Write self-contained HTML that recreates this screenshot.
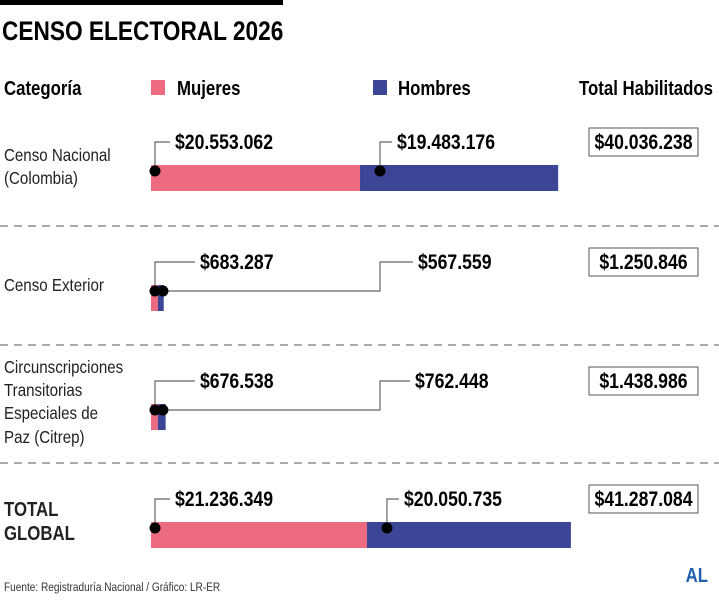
<!DOCTYPE html>
<html><head><meta charset="utf-8"><style>
body{margin:0;background:#fff;width:719px;height:599px;overflow:hidden}
svg text{font-family:"Liberation Sans Narrow","Liberation Sans",sans-serif}
</style></head><body>
<svg id="c" width="719" height="599" xmlns="http://www.w3.org/2000/svg">
<rect x="0" y="0" width="283" height="5" fill="#000"/>
<text x="2" y="40" font-size="27" font-weight="bold">CENSO ELECTORAL 2026</text>
<text x="4" y="95" font-size="20" font-weight="bold">Categoría</text>
<rect x="151" y="80" width="14" height="15" fill="#ec6b80"/>
<text x="177" y="95" font-size="20" font-weight="bold">Mujeres</text>
<rect x="373" y="80" width="14" height="15" fill="#3c4596"/>
<text x="398" y="95" font-size="20" font-weight="bold">Hombres</text>
<text x="713" y="95" font-size="20" font-weight="bold" text-anchor="end">Total Habilitados</text>
<g id="rows"></g>
<text x="4" y="591" font-size="12" fill="#333">Fuente: Registraduría Nacional / Gráfico: LR-ER</text>
<text x="708" y="582" font-size="20" font-weight="bold" fill="#1f5fb0" text-anchor="end">AL</text>
</svg>
<script>
const categories=[["Censo Nacional","(Colombia)"],["Censo Exterior"],["Circunscripciones","Transitorias","Especiales de","Paz (Citrep)"],["TOTAL","GLOBAL"]];
const mujeres=[20553062,683287,676538,21236349];
const hombres=[19483176,567559,762448,20050735];
const totals=[40036238,1250846,1438986,41287084];
const NS="http://www.w3.org/2000/svg";
const g=document.getElementById("rows");
const x0=151,k=10.17/1e6;
const xs=v=>x0+v*k;
const fmt=v=>"$"+String(v).replace(/\B(?=(\d{3})+(?!\d))/g,".");
function mk(t,a){const e=document.createElementNS(NS,t);for(const n in a)e.setAttribute(n,a[n]);g.appendChild(e);return e;}
const barTop=[165,285,404,522],labY=[142,262,381,499],catY=[[155,178],[285],[367,390,413,437],[510,534]];
[226,345,463].forEach(y=>{
  const l=mk("line",{x1:0,x2:719,y1:y,y2:y,stroke:"#777","stroke-width":1.2,"stroke-dasharray":"8,6"});
  
  
});
categories.forEach((c,i)=>{
  const bold=i==3;
  c.forEach((s,j)=>{
    const t=mk("text",{x:4,y:catY[i][j]+6,"font-size":bold?20:18,"font-weight":bold?"bold":"normal",fill:"#222"});
    t.textContent=s;
    
    
  });
  const y=barTop[i],xm=xs(mujeres[i]),xh=xs(mujeres[i]+hombres[i]);
  const b1=mk("rect",{x:x0,y:y,width:xm-x0,height:26,fill:"#ec6b80"});
  
  
  const b2=mk("rect",{x:xm,y:y,width:xh-xm,height:26,fill:"#3c4596"});
  
  
  const small=(xh-x0)<60;
  const dy=y+6,ly=labY[i];
  const d1x=x0+4,d2x=small?xm+5:xm+20;
  const lx1=small?195:170;
  const p1=mk("polyline",{points:`${d1x},${dy} ${d1x},${ly} ${lx1},${ly}`,fill:"none",stroke:"#666","stroke-width":1.2});
  
  
  const t1=mk("text",{x:lx1+5,y:ly+7,"font-size":21,"font-weight":"bold"});
  t1.textContent=fmt(mujeres[i]);
  
  
  const lx2=small?380:d2x;
  const end2=small?(i==1?413:410):d2x+12;
  const p2=mk("polyline",{points:small?`${d2x},${dy} ${lx2},${dy} ${lx2},${ly} ${end2},${ly}`:`${d2x},${dy} ${d2x},${ly} ${end2},${ly}`,fill:"none",stroke:"#666","stroke-width":1.2});
  
  
  const t2=mk("text",{x:end2+5,y:ly+7,"font-size":21,"font-weight":"bold"});
  t2.textContent=fmt(hombres[i]);
  
  
  [d1x,d2x].forEach(cx=>{
    const d=mk("circle",{cx:cx,cy:dy,r:5.5,fill:"#000"});
    
    
  });
  const bx=mk("rect",{x:589,y:ly-14,width:109,height:28,fill:"#fff",stroke:"#555","stroke-width":1});
  
  
  const tt=mk("text",{x:643.5,y:ly+7,"font-size":21,"font-weight":"bold","text-anchor":"middle"});
  tt.textContent=fmt(totals[i]);
  
  
});
document.querySelectorAll("svg text").forEach(t=>{
  const x=parseFloat(t.getAttribute("x"));
  t.setAttribute("transform",`translate(${x},0) scale(0.84,1) translate(${-x},0)`);
});
</script>
</body></html>
